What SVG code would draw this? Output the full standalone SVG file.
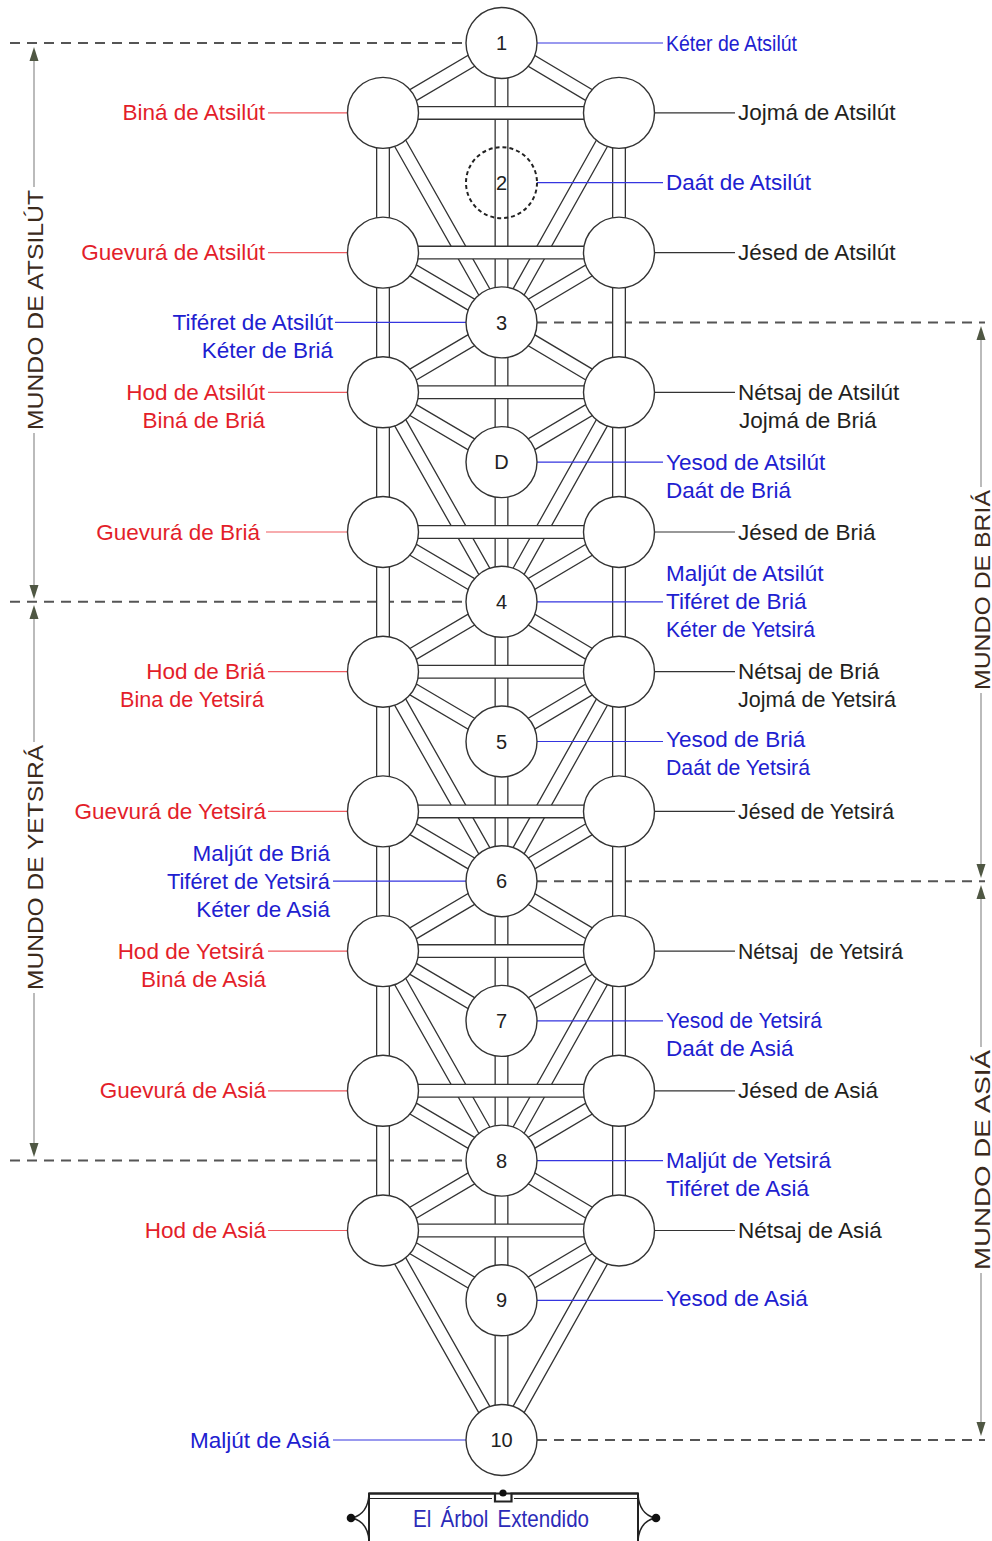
<svg xmlns="http://www.w3.org/2000/svg" width="992" height="1541" viewBox="0 0 992 1541">
<style>
.po{fill:none;stroke:#333;stroke-width:14}
.pi{fill:none;stroke:#fff;stroke-width:11.4}
.node{fill:#fff;stroke:#333;stroke-width:1.4}
.num{font-family:"Liberation Sans",Arial,sans-serif;font-size:20px;text-anchor:middle;fill:#222}
.lbl{font-family:"Liberation Sans",Arial,sans-serif;font-size:22.5px}
.end{text-anchor:end}
.r{fill:#e31e2a}.b{fill:#2020d0}.k{fill:#231f20}
.lr{stroke:#ef5a5f;stroke-width:1.2}
.lb{stroke:#3535e0;stroke-width:1.2}
.lk{stroke:#333;stroke-width:1.2}
.dash{stroke:#555;stroke-width:2;stroke-dasharray:10 7;fill:none}
.arr{stroke:#aaa;stroke-width:1.6}
.ah{fill:#4f5743}
.world{font-family:"Liberation Sans",Arial,sans-serif;font-size:22px;fill:#3b2a1c;text-anchor:middle}
</style>
<rect width="992" height="1541" fill="#fff"/>

<g id="world-bounds">
<path class="dash" d="M10,43H466 M10,601.8H466 M10,1160.6H466 M537,322.4H985 M537,881.2H985 M537,1440H985"/>
<line class="arr" x1="34" y1="58" x2="34" y2="187"/>
<line class="arr" x1="34" y1="433" x2="34" y2="588"/>
<polygon class="ah" points="34,47 29.5,61 38.5,61"/>
<polygon class="ah" points="34,599 29.5,585 38.5,585"/>
<text class="world" transform="translate(43,310) rotate(-90)" textLength="240" lengthAdjust="spacingAndGlyphs">MUNDO DE ATSILÚT</text>
<line class="arr" x1="34" y1="616" x2="34" y2="742"/>
<line class="arr" x1="34" y1="993" x2="34" y2="1146"/>
<polygon class="ah" points="34,605 29.5,619 38.5,619"/>
<polygon class="ah" points="34,1157 29.5,1143 38.5,1143"/>
<text class="world" transform="translate(43,867.5) rotate(-90)" textLength="245" lengthAdjust="spacingAndGlyphs">MUNDO DE YETSIRÁ</text>
<line class="arr" x1="981" y1="337" x2="981" y2="487"/>
<line class="arr" x1="981" y1="693" x2="981" y2="867"/>
<polygon class="ah" points="981,326 976.5,340 985.5,340"/>
<polygon class="ah" points="981,878 976.5,864 985.5,864"/>
<text class="world" transform="translate(990,590) rotate(-90)" textLength="200" lengthAdjust="spacingAndGlyphs">MUNDO DE BRIÁ</text>
<line class="arr" x1="981" y1="896" x2="981" y2="1047"/>
<line class="arr" x1="981" y1="1273" x2="981" y2="1425"/>
<polygon class="ah" points="981,885 976.5,899 985.5,899"/>
<polygon class="ah" points="981,1436 976.5,1422 985.5,1422"/>
<text class="world" transform="translate(990,1160) rotate(-90)" textLength="220" lengthAdjust="spacingAndGlyphs">MUNDO DE ASIÁ</text>
</g>

<g id="connectors">
<g id="verticals">
<path class="po" d="M501.5,43V1440 M383,112.9V1230.5 M619,112.9V1230.5"/>
<path class="pi" d="M501.5,43V1440 M383,112.9V1230.5 M619,112.9V1230.5"/>
</g>
<g id="diagonals">
<path class="po" d="M501.5,43L383,112.9 M501.5,43L619,112.9 M501.5,322.4L383,392.3 M501.5,322.4L619,392.3 M501.5,601.8L383,671.7 M501.5,601.8L619,671.7 M501.5,881.2L383,951.1 M501.5,881.2L619,951.1 M501.5,1160.6L383,1230.5 M501.5,1160.6L619,1230.5 M383,252.6L501.5,322.4 M619,252.6L501.5,322.4 M383,392.3L501.5,462.1 M619,392.3L501.5,462.1 M383,532L501.5,601.8 M619,532L501.5,601.8 M383,671.7L501.5,741.5 M619,671.7L501.5,741.5 M383,811.4L501.5,881.2 M619,811.4L501.5,881.2 M383,951.1L501.5,1020.9 M619,951.1L501.5,1020.9 M383,1090.8L501.5,1160.6 M619,1090.8L501.5,1160.6 M383,1230.5L501.5,1300.3 M619,1230.5L501.5,1300.3 M383,112.9L501.5,322.4 M619,112.9L501.5,322.4 M383,392.3L501.5,601.8 M619,392.3L501.5,601.8 M383,671.7L501.5,881.2 M619,671.7L501.5,881.2 M383,951.1L501.5,1160.6 M619,951.1L501.5,1160.6 M383,1230.5L501.5,1440 M619,1230.5L501.5,1440"/>
<path class="pi" d="M501.5,43L383,112.9 M501.5,43L619,112.9 M501.5,322.4L383,392.3 M501.5,322.4L619,392.3 M501.5,601.8L383,671.7 M501.5,601.8L619,671.7 M501.5,881.2L383,951.1 M501.5,881.2L619,951.1 M501.5,1160.6L383,1230.5 M501.5,1160.6L619,1230.5 M383,252.6L501.5,322.4 M619,252.6L501.5,322.4 M383,392.3L501.5,462.1 M619,392.3L501.5,462.1 M383,532L501.5,601.8 M619,532L501.5,601.8 M383,671.7L501.5,741.5 M619,671.7L501.5,741.5 M383,811.4L501.5,881.2 M619,811.4L501.5,881.2 M383,951.1L501.5,1020.9 M619,951.1L501.5,1020.9 M383,1090.8L501.5,1160.6 M619,1090.8L501.5,1160.6 M383,1230.5L501.5,1300.3 M619,1230.5L501.5,1300.3 M383,112.9L501.5,322.4 M619,112.9L501.5,322.4 M383,392.3L501.5,601.8 M619,392.3L501.5,601.8 M383,671.7L501.5,881.2 M619,671.7L501.5,881.2 M383,951.1L501.5,1160.6 M619,951.1L501.5,1160.6 M383,1230.5L501.5,1440 M619,1230.5L501.5,1440"/>
</g>
<g id="horizontals">
<path class="po" d="M383,112.9H619 M383,252.6H619 M383,392.3H619 M383,532H619 M383,671.7H619 M383,811.4H619 M383,951.1H619 M383,1090.8H619 M383,1230.5H619"/>
<path class="pi" d="M383,112.9H619 M383,252.6H619 M383,392.3H619 M383,532H619 M383,671.7H619 M383,811.4H619 M383,951.1H619 M383,1090.8H619 M383,1230.5H619"/>
</g>
</g>

<g id="leaders">
<path class="lb" d="M537,43H663 M537,182.7H663 M466,322.4H335 M537,462.1H663 M537,601.8H663 M537,741.5H663 M466,881.2H333 M537,1020.9H663 M537,1160.6H663 M537,1300.3H663 M466,1440H333"/>
<path class="lr" d="M268,112.9H347.5 M268,252.6H347.5 M268,392.3H347.5 M266,532H347.5 M268,671.7H347.5 M268,811.4H347.5 M268,951.1H347.5 M268,1090.8H347.5 M268,1230.5H347.5"/>
<path class="lk" d="M654.5,112.9H735 M654.5,252.6H735 M654.5,392.3H735 M654.5,532H735 M654.5,671.7H735 M654.5,811.4H735 M654.5,951.1H735 M654.5,1090.8H735 M654.5,1230.5H735"/>
</g>

<g id="node-1"><circle class="node" cx="501.5" cy="43" r="35.5"/><text class="num" x="501.5" y="50">1</text><text class="lbl b" x="666" y="50.5" textLength="131" lengthAdjust="spacingAndGlyphs">Kéter de Atsilút</text></g>
<g id="node-2"><circle cx="501.5" cy="182.7" r="35.5" fill="none" stroke="#222" stroke-width="2" stroke-dasharray="4 3"/><text class="num" x="501.5" y="190">2</text><text class="lbl b" x="666" y="190.2">Daát de Atsilút</text></g>
<g id="node-3"><circle class="node" cx="501.5" cy="322.4" r="35.5"/><text class="num" x="501.5" y="329.5">3</text><text class="lbl b end" x="333" y="329.9">Tiféret de Atsilút</text><text class="lbl b end" x="333" y="357.9">Kéter de Briá</text></g>
<g id="node-D"><circle class="node" cx="501.5" cy="462.1" r="35.5"/><text class="num" x="501.5" y="469.2">D</text><text class="lbl b" x="666" y="469.6">Yesod de Atsilút</text><text class="lbl b" x="666" y="497.6">Daát de Briá</text></g>
<g id="node-4"><circle class="node" cx="501.5" cy="601.8" r="35.5"/><text class="num" x="501.5" y="608.9">4</text><text class="lbl b" x="666" y="581.3">Maljút de Atsilút</text><text class="lbl b" x="666" y="609.3">Tiféret de Briá</text><text class="lbl b" x="666" y="637.3" textLength="149" lengthAdjust="spacingAndGlyphs">Kéter de Yetsirá</text></g>
<g id="node-5"><circle class="node" cx="501.5" cy="741.5" r="35.5"/><text class="num" x="501.5" y="748.6">5</text><text class="lbl b" x="666" y="747">Yesod de Briá</text><text class="lbl b" x="666" y="775" textLength="144" lengthAdjust="spacingAndGlyphs">Daát de Yetsirá</text></g>
<g id="node-6"><circle class="node" cx="501.5" cy="881.2" r="35.5"/><text class="num" x="501.5" y="888.3">6</text><text class="lbl b end" x="330" y="860.7">Maljút de Briá</text><text class="lbl b end" x="330" y="888.7" textLength="163" lengthAdjust="spacingAndGlyphs">Tiféret de Yetsirá</text><text class="lbl b end" x="330" y="916.7">Kéter de Asiá</text></g>
<g id="node-7"><circle class="node" cx="501.5" cy="1020.9" r="35.5"/><text class="num" x="501.5" y="1028">7</text><text class="lbl b" x="666" y="1028.4" textLength="156" lengthAdjust="spacingAndGlyphs">Yesod de Yetsirá</text><text class="lbl b" x="666" y="1056.4">Daát de Asiá</text></g>
<g id="node-8"><circle class="node" cx="501.5" cy="1160.6" r="35.5"/><text class="num" x="501.5" y="1167.7">8</text><text class="lbl b" x="666" y="1168.1">Maljút de Yetsirá</text><text class="lbl b" x="666" y="1196.1">Tiféret de Asiá</text></g>
<g id="node-9"><circle class="node" cx="501.5" cy="1300.3" r="35.5"/><text class="num" x="501.5" y="1307.4">9</text><text class="lbl b" x="666" y="1305.8">Yesod de Asiá</text></g>
<g id="node-10"><circle class="node" cx="501.5" cy="1440" r="35.5"/><text class="num" x="501.5" y="1447.1">10</text><text class="lbl b end" x="330" y="1447.5">Maljút de Asiá</text></g>

<g id="node-L0"><circle class="node" cx="383" cy="112.9" r="35.5"/><text class="lbl r end" x="265" y="120.4">Biná de Atsilút</text></g>
<g id="node-L1"><circle class="node" cx="383" cy="252.6" r="35.5"/><text class="lbl r end" x="265" y="260.1">Guevurá de Atsilút</text></g>
<g id="node-L2"><circle class="node" cx="383" cy="392.3" r="35.5"/><text class="lbl r end" x="265" y="399.8">Hod de Atsilút</text><text class="lbl r end" x="265" y="427.8">Biná de Briá</text></g>
<g id="node-L3"><circle class="node" cx="383" cy="532" r="35.5"/><text class="lbl r end" x="260" y="539.5">Guevurá de Briá</text></g>
<g id="node-L4"><circle class="node" cx="383" cy="671.7" r="35.5"/><text class="lbl r end" x="265" y="679.2">Hod de Briá</text><text class="lbl r end" x="264" y="707.2" textLength="144" lengthAdjust="spacingAndGlyphs">Bina de Yetsirá</text></g>
<g id="node-L5"><circle class="node" cx="383" cy="811.4" r="35.5"/><text class="lbl r end" x="266" y="818.9">Guevurá de Yetsirá</text></g>
<g id="node-L6"><circle class="node" cx="383" cy="951.1" r="35.5"/><text class="lbl r end" x="264" y="958.6">Hod de Yetsirá</text><text class="lbl r end" x="266" y="986.6">Biná de Asiá</text></g>
<g id="node-L7"><circle class="node" cx="383" cy="1090.8" r="35.5"/><text class="lbl r end" x="266" y="1098.3">Guevurá de Asiá</text></g>
<g id="node-L8"><circle class="node" cx="383" cy="1230.5" r="35.5"/><text class="lbl r end" x="266" y="1238">Hod de Asiá</text></g>

<g id="node-R0"><circle class="node" cx="619" cy="112.9" r="35.5"/><text class="lbl k" x="738" y="120.4">Jojmá de Atsilút</text></g>
<g id="node-R1"><circle class="node" cx="619" cy="252.6" r="35.5"/><text class="lbl k" x="738" y="260.1">Jésed de Atsilút</text></g>
<g id="node-R2"><circle class="node" cx="619" cy="392.3" r="35.5"/><text class="lbl k" x="738" y="399.8">Nétsaj de Atsilút</text><text class="lbl k" x="739" y="427.8">Jojmá de Briá</text></g>
<g id="node-R3"><circle class="node" cx="619" cy="532" r="35.5"/><text class="lbl k" x="738" y="539.5">Jésed de Briá</text></g>
<g id="node-R4"><circle class="node" cx="619" cy="671.7" r="35.5"/><text class="lbl k" x="738" y="679.2">Nétsaj de Briá</text><text class="lbl k" x="738" y="707.2" textLength="158" lengthAdjust="spacingAndGlyphs">Jojmá de Yetsirá</text></g>
<g id="node-R5"><circle class="node" cx="619" cy="811.4" r="35.5"/><text class="lbl k" x="738" y="818.9" textLength="156" lengthAdjust="spacingAndGlyphs">Jésed de Yetsirá</text></g>
<g id="node-R6"><circle class="node" cx="619" cy="951.1" r="35.5"/><text class="lbl k" x="738" y="958.6" style="white-space:pre" textLength="165" lengthAdjust="spacingAndGlyphs">Nétsaj  de Yetsirá</text></g>
<g id="node-R7"><circle class="node" cx="619" cy="1090.8" r="35.5"/><text class="lbl k" x="738" y="1098.3">Jésed de Asiá</text></g>
<g id="node-R8"><circle class="node" cx="619" cy="1230.5" r="35.5"/><text class="lbl k" x="738" y="1238">Nétsaj de Asiá</text></g>

<g id="title">
<rect x="369" y="1493.5" width="269" height="60" fill="#fff" stroke="#222" stroke-width="2"/>
<path d="M369,1493.5H495V1501.5H511.5V1493.5H638" fill="none" stroke="#222" stroke-width="2.2"/>
<path d="M369,1498.5H492 M514,1498.5H638" fill="none" stroke="#222" stroke-width="1.2"/>
<circle cx="503" cy="1493" r="3.6" fill="#111"/>
<path d="M369,1494Q368,1514 352,1518Q368,1522 369,1541" fill="none" stroke="#222" stroke-width="1.5"/>
<path d="M638,1494Q639,1514 655,1518Q639,1522 638,1541" fill="none" stroke="#222" stroke-width="1.5"/>
<circle cx="351" cy="1518" r="4.3" fill="#111"/>
<circle cx="656" cy="1518" r="4.3" fill="#111"/>
<text x="501" y="1527" font-family="Liberation Sans, Arial, sans-serif" font-size="24" fill="#2b2bb8" text-anchor="middle" word-spacing="4" textLength="176" lengthAdjust="spacingAndGlyphs">El Árbol Extendido</text>
</g>
</svg>
